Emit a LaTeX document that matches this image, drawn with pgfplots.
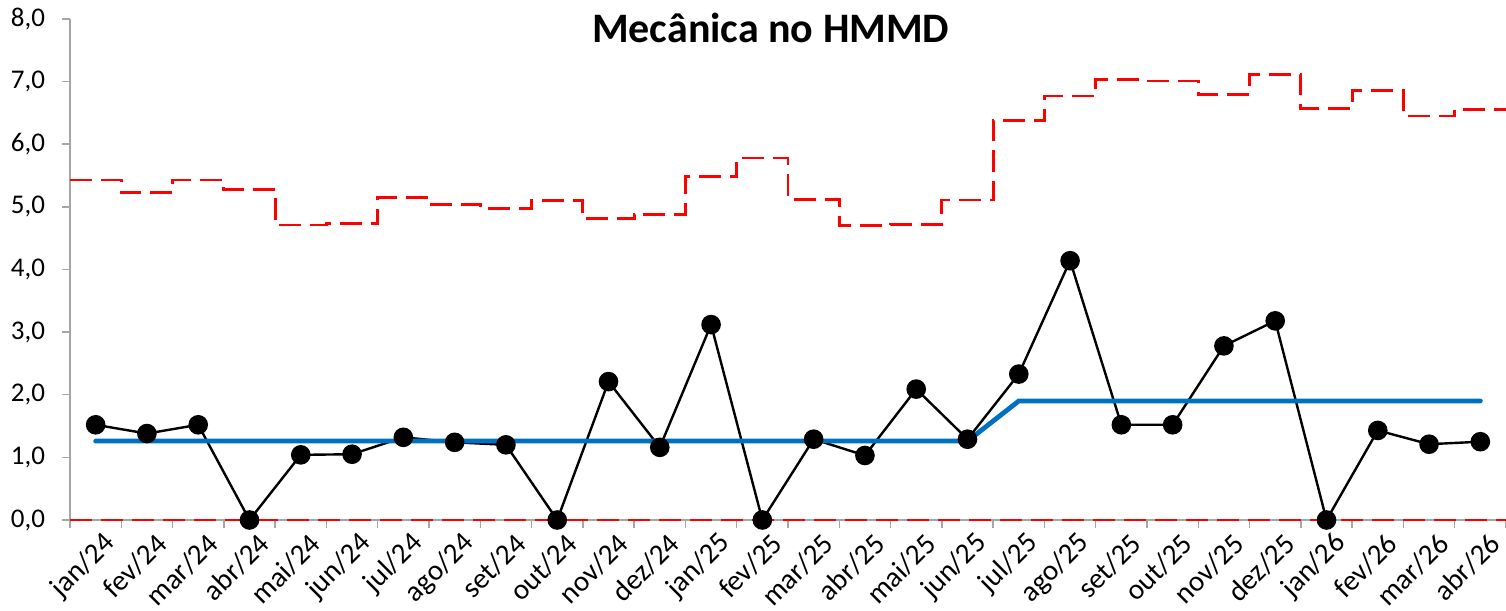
\documentclass[border=0pt]{standalone}
\usepackage{pgfplots}
\pgfplotsset{compat=1.18}
\usepackage{fontspec}
\setmainfont{Carlito}
\definecolor{cblue}{RGB}{0,112,192}
\definecolor{axgray}{RGB}{166,166,166}
\begin{document}
\begin{tikzpicture}
\begin{axis}[
  scale only axis, width=718pt, height=250.5pt,
  xmin=-0.5, xmax=27.5, ymin=0, ymax=8,
  axis x line=bottom, axis y line=left,
  axis line style={-, axgray, line width=0.75pt},
  clip=false, set layers,
  ytick={0,...,8},
  xtick={-0.5,0.5,...,27.5}, xticklabels={},
  extra x ticks={0,...,27},
  extra x tick labels={jan/24,fev/24,mar/24,abr/24,mai/24,jun/24,jul/24,ago/24,set/24,out/24,nov/24,dez/24,jan/25,fev/25,mar/25,abr/25,mai/25,jun/25,jul/25,ago/25,set/25,out/25,nov/25,dez/25,jan/26,fev/26,mar/26,abr/26},
  extra x tick style={major tick length=0pt},
  tick align=outside, major tick length=4pt,
  tick style={axgray, line width=0.75pt},
  yticklabel style={font=\fontsize{13.5}{16}\selectfont, black, xshift=-5pt, /pgf/number format/.cd, fixed, fixed zerofill, precision=1, use comma},
  /pgf/number format/assume math mode=true,
  xticklabel style={font=\fontsize{14.5}{17}\selectfont, black, rotate=45, anchor=east, xshift=2pt, yshift=-12pt},
]
\addplot[black, line width=1.2pt, mark=*, mark size=4.3pt, mark options={solid, fill=black}] coordinates {
(0,1.52) (1,1.38) (2,1.52) (3,0) (4,1.04) (5,1.05) (6,1.32) (7,1.24) (8,1.20) (9,0)
(10,2.21) (11,1.16) (12,3.12) (13,0) (14,1.29) (15,1.03) (16,2.09) (17,1.29) (18,2.33) (19,4.14)
(20,1.52) (21,1.52) (22,2.78) (23,3.18) (24,0) (25,1.43) (26,1.21) (27,1.25)};
\addplot[red, line width=1.4pt, dash pattern=on 11pt off 4.5pt, const plot mark left] coordinates {
(-0.5,5.43) (0.5,5.23) (1.5,5.43) (2.5,5.28) (3.5,4.71) (4.5,4.73) (5.5,5.15) (6.5,5.04) (7.5,4.97) (8.5,5.10)
(9.5,4.81) (10.5,4.88) (11.5,5.48) (12.5,5.78) (13.5,5.12) (14.5,4.70) (15.5,4.72) (16.5,5.11) (17.5,6.38) (18.5,6.77)
(19.5,7.03) (20.5,7.01) (21.5,6.80) (22.5,7.12) (23.5,6.57) (24.5,6.86) (25.5,6.45) (26.5,6.55) (27.5,6.55)};
\addplot[red, line width=1.4pt, dash pattern=on 11pt off 4.5pt] coordinates {(-0.5,0) (27.5,0)};
\addplot[cblue, line width=2.4pt, line cap=round] coordinates {(0,1.26) (17,1.26) (18,1.90) (27,1.90)};
\node[font=\fontsize{21}{25}\selectfont\bfseries] at (rel axis cs:0.488,0.982) {Mecânica no HMMD};
\coordinate (ll) at (rel axis cs:0,0);
\coordinate (ur) at (rel axis cs:1,1);
\end{axis}
\pgfresetboundingbox
\path ([xshift=-35pt, yshift=-45.5pt]ll) rectangle ([yshift=9.5pt]ur);
\end{tikzpicture}
\end{document}
